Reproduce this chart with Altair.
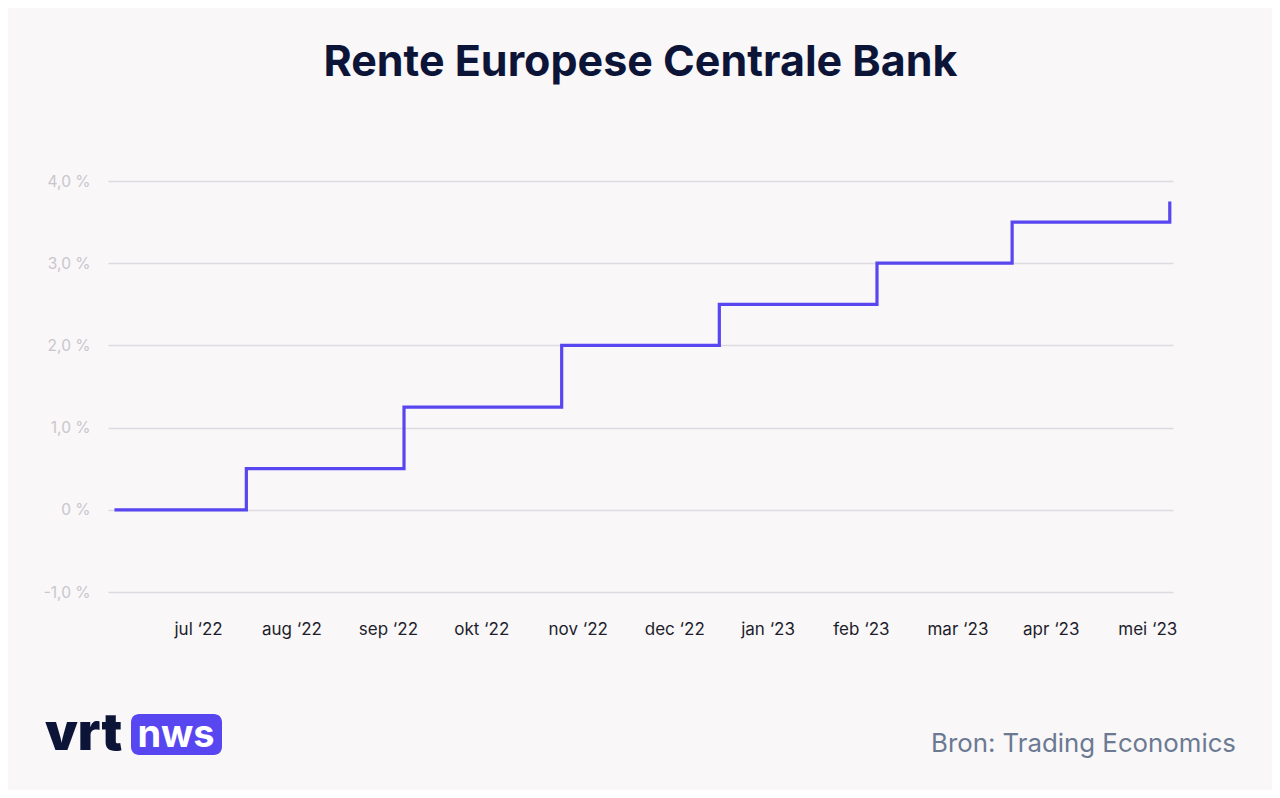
import altair as alt
import pandas as pd

# Data: ECB rate steps
dates = ["2022-06-16", "2022-07-27", "2022-09-14", "2022-11-02", "2022-12-21",
         "2023-02-08", "2023-03-22", "2023-05-10"]
rates = [0.0, 0.5, 1.25, 2.0, 2.5, 3.0, 3.5, 3.75]

# Axis tick positions / labels
tick_dates = ["2022-07-12", "2022-08-10", "2022-09-09", "2022-10-08", "2022-11-07",
              "2022-12-07", "2023-01-05", "2023-02-03", "2023-03-05", "2023-04-03",
              "2023-05-03"]
y_ticks = [-1, 0, 1, 2, 3, 4]
domain_dates = ["2022-06-14", "2023-05-11"]


def dt(s):
    y, m, d = (int(p) for p in s.split("-"))
    return alt.DateTime(year=y, month=m, date=d, utc=True)


df = pd.DataFrame({"datum": dates, "rente": rates})

BG = "#f9f7f8"
LINE = "#5846f0"
NAVY = "#0c1538"

W, H = 1065, 411

month_expr = ("['jan','feb','mar','apr','mei','jun','jul','aug','sep','okt','nov','dec']"
              "[utcmonth(datum.value)] + ' \u2018' + utcFormat(datum.value, '%y')")
y_expr = ("datum.value == 0 ? '0 %' : (datum.value < 0 ? '-' : '') + "
          "replace(format(abs(datum.value), '.1f'), '.', ',') + ' %'")

line = alt.Chart(df).mark_line(interpolate="step-after", strokeWidth=3.2, color=LINE,
                               strokeJoin="miter", strokeCap="butt").encode(
    x=alt.X("datum:T",
            scale=alt.Scale(type="utc", domain=[dt(d) for d in domain_dates]),
            axis=alt.Axis(values=[dt(d) for d in tick_dates], labelExpr=month_expr,
                          title=None, grid=False, domain=False, ticks=False, tickSize=0,
                          labelPadding=29, labelFontSize=17, labelColor="#1d1d2b",
                          labelFont="Inter", labelAlign="center")),
    y=alt.Y("rente:Q",
            scale=alt.Scale(domain=[-1, 4], nice=False, zero=False),
            axis=alt.Axis(values=y_ticks, labelExpr=y_expr, title=None, domain=False,
                          ticks=False, tickSize=0, labelPadding=18, labelFontSize=15.5,
                          labelColor="#c8c6cc", labelFont="Inter", gridColor="#dddbe0",
                          gridWidth=1.5)),
)

# Logo and source annotations
logo_bg = alt.Chart(pd.DataFrame({"k": [0]})).mark_rect(color="#5846f0", cornerRadius=8).encode(
    x=alt.value(23), x2=alt.value(114), y=alt.value(533), y2=alt.value(574))
vrt = alt.Chart(pd.DataFrame({"t": ["vrt"]})).mark_text(
    font="Inter", fontSize=52, fontWeight=900, color=NAVY, align="left",
    baseline="alphabetic").encode(
    x=alt.value(-63), y=alt.value(569), text="t:N")
nws = alt.Chart(pd.DataFrame({"t": ["nws"]})).mark_text(
    font="Inter", fontSize=38, fontWeight=700, color="white", align="center",
    baseline="middle").encode(x=alt.value(68), y=alt.value(555), text="t:N")
bron = alt.Chart(pd.DataFrame({"t": ["Bron: Trading Economics"]})).mark_text(
    font="Inter", fontSize=25.8, fontWeight=400, color="#6b7a92", align="right",
    baseline="alphabetic").encode(x=alt.value(1128), y=alt.value(571), text="t:N")

chart = alt.layer(line, logo_bg, vrt, nws, bron).properties(
    width=W, height=H,
    padding={"left": 100, "top": 173, "right": 99, "bottom": 198},
    autosize=alt.AutoSizeParams(type="none"),
    background=BG,
    title=alt.TitleParams("Rente Europese Centrale Bank", font="Inter", fontSize=43,
                          fontWeight=700, color=NAVY, anchor="middle", offset=89),
).configure_view(stroke=None)

chart.save("out.html", embed_options={"renderer": "svg", "actions": False})
